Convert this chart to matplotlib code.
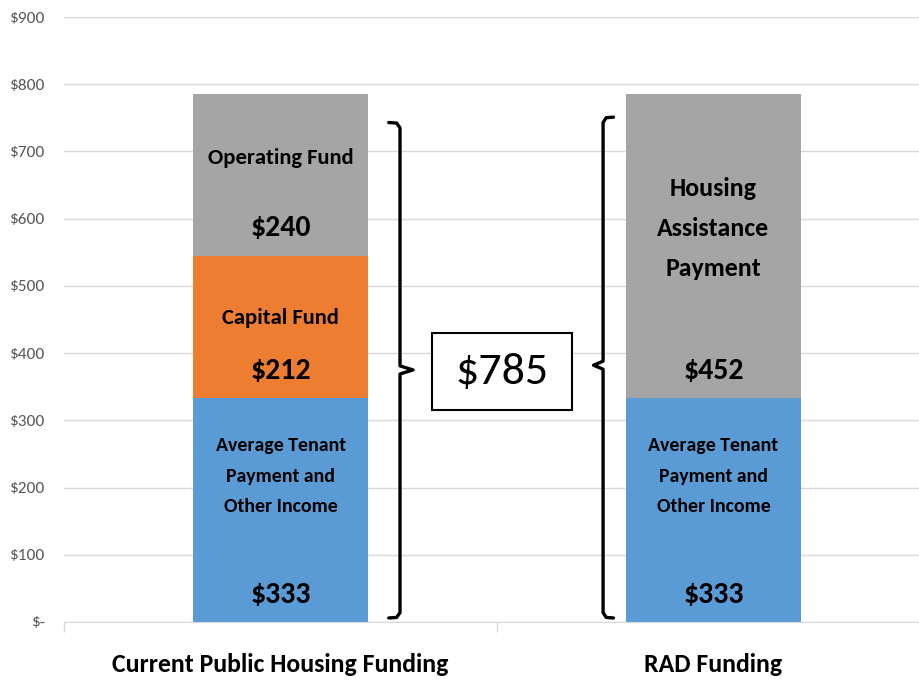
import matplotlib
matplotlib.use("Agg")
import matplotlib.pyplot as plt
from matplotlib.patches import Rectangle
import numpy as np

# data
categories = ["Current Public Housing Funding", "RAD Funding"]
tenant = [333, 333]
capital = [212, 0]
operating = [240, 0]
hap = [0, 452]
total = 785
y_ticks = [0, 100, 200, 300, 400, 500, 600, 700, 800, 900]
y_labels = ["$-", "$100", "$200", "$300", "$400", "$500", "$600", "$700", "$800", "$900"]

BLUE = "#5B9BD5"
ORANGE = "#ED7D31"
GRAY = "#A5A5A5"
GRID = "#D9D9D9"

plt.rcParams["font.family"] = ["Carlito", "DejaVu Sans"]

fig = plt.figure(figsize=(9.19, 6.83), dpi=100)
ax = fig.add_axes([64 / 919, 61 / 683, 866 / 919, 605 / 683])

x = np.arange(len(categories))
w = 0.404
ax.bar(x, tenant, w, color=BLUE, zorder=2)
ax.bar(x, capital, w, bottom=tenant, color=ORANGE, zorder=2)
b2 = np.array(tenant) + np.array(capital)
ax.bar(x, operating, w, bottom=b2, color=GRAY, zorder=2)
ax.bar(x, hap, w, bottom=b2, color=GRAY, zorder=2)

ax.set_xlim(-0.5, 1.5)
ax.set_ylim(0, 900)
ax.set_yticks(y_ticks)
ax.set_yticklabels(y_labels, color="#595959", fontsize=12.5)
ax.tick_params(axis="y", length=0, pad=14)
ax.set_xticks(x)
ax.set_xticklabels(categories, fontsize=18.5, fontweight="bold")
ax.tick_params(axis="x", length=0, pad=22)
ax.set_xticks([-0.5, 0.5, 1.5], minor=True)
ax.tick_params(axis="x", which="minor", length=7.5, color=GRID, width=1)
ax.grid(axis="y", color=GRID, linewidth=1, zorder=0)
ax.set_axisbelow(True)
for s in ["left", "right", "top"]:
    ax.spines[s].set_visible(False)
ax.spines["bottom"].set_color(GRID)

# segment labels
lab = dict(ha="center", va="center", fontweight="bold", color="black", zorder=3)
ax.text(0, 690, "Operating Fund", fontsize=16.3, **lab)
ax.text(0, 586, f"${operating[0]}", fontsize=21.5, **lab)
ax.text(0, 452, "Capital Fund", fontsize=16.3, **lab)
ax.text(0, 373, f"${capital[0]}", fontsize=21.5, **lab)
for xi in x:
    ax.text(xi, 217, "Average Tenant\nPayment and\nOther Income", fontsize=14.3,
            linespacing=1.95, **lab)
    ax.text(xi, 40, f"${tenant[xi]}", fontsize=21.5, **lab)
ax.text(1, 585, "Housing\nAssistance\nPayment", fontsize=18.6,
        linespacing=1.9, **lab)
ax.text(1, 373, f"${hap[1]}", fontsize=21.5, **lab)


def brace(xs, y0, y1, ytip, hook, tip):
    # vertical brace with small hooks at the ends and a point in the middle
    c = 4
    xs_ = [xs + hook, xs + hook * 0.3, xs, xs, xs + tip, xs, xs, xs + hook * 0.3, xs + hook]
    ys_ = [y1 + c, y1 + c * 0.8, y1 - 4, ytip + 6, ytip, ytip - 6, y0 + 4, y0 - c * 0.8, y0 - c]
    ax.plot(xs_, ys_, color="black", linewidth=2.4, solid_joinstyle="round",
            solid_capstyle="round", zorder=4)


brace(0.276, 10, 739, 375, -0.026, 0.03)
brace(0.745, 10, 747, 382, 0.024, -0.022)

ax.add_patch(Rectangle((0.35, 315), 0.323, 115, facecolor="white",
                       edgecolor="black", linewidth=1.5, zorder=4))
ax.text(0.512, 372, f"${total}", fontsize=33, ha="center", va="center",
        zorder=5)

fig.savefig("out.png", dpi=100)
